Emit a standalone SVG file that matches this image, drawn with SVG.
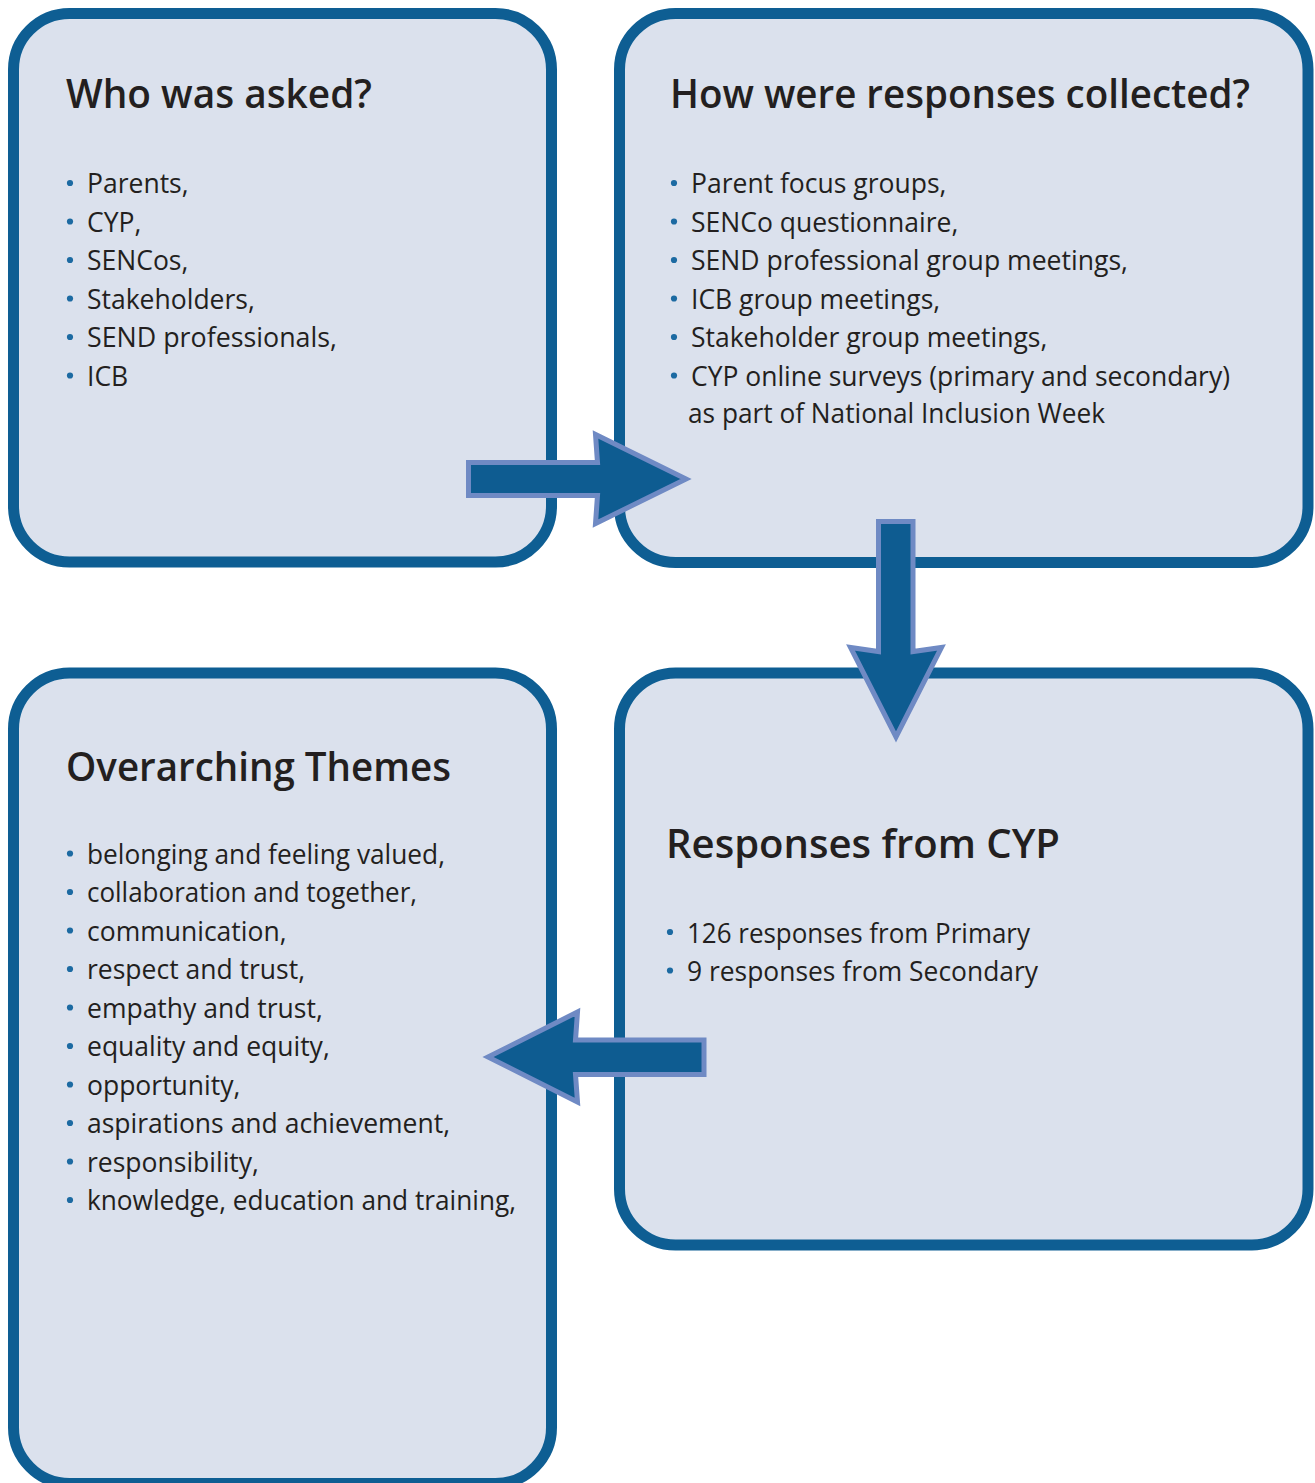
<svg xmlns="http://www.w3.org/2000/svg" width="1315" height="1483" viewBox="0 0 1315 1483">
<style>
.box{fill:#dbe1ed;stroke:#0e5e93;stroke-width:11}
.arrow{fill:#0e5c91;stroke:#6f8ac4;stroke-width:5;stroke-linejoin:miter}
.h{font-family:"Open Sans","Liberation Sans",sans-serif;font-weight:600;font-size:39px;fill:#231f20}
.t{font-family:"Open Sans","Liberation Sans",sans-serif;font-weight:400;font-size:26.5px;fill:#231f20}
.dot{fill:#1c6aa2}
</style>
<rect width="1315" height="1483" fill="#ffffff"/>
<g id="node-who">
<rect class="box" x="13.5" y="13.5" width="538" height="548.5" rx="56" ry="56"/>
<text class="h" x="66" y="108" textLength="306" lengthAdjust="spacingAndGlyphs">Who was asked?</text>
<circle class="dot" cx="70" cy="183" r="3.1"/><text class="t" x="87" y="193">Parents,</text>
<circle class="dot" cx="70" cy="221.5" r="3.1"/><text class="t" x="87" y="231.5">CYP,</text>
<circle class="dot" cx="70" cy="260" r="3.1"/><text class="t" x="87" y="270">SENCos,</text>
<circle class="dot" cx="70" cy="298.5" r="3.1"/><text class="t" x="87" y="308.5">Stakeholders,</text>
<circle class="dot" cx="70" cy="337" r="3.1"/><text class="t" x="87" y="347" textLength="250" lengthAdjust="spacingAndGlyphs">SEND professionals,</text>
<circle class="dot" cx="70" cy="375.5" r="3.1"/><text class="t" x="87" y="385.5">ICB</text>
</g>
<g id="node-how">
<rect class="box" x="619.5" y="13.5" width="688.5" height="549" rx="56" ry="56"/>
<text class="h" x="670" y="108" textLength="580" lengthAdjust="spacingAndGlyphs">How were responses collected?</text>
<circle class="dot" cx="674" cy="183" r="3.1"/><text class="t" x="691" y="193">Parent focus groups,</text>
<circle class="dot" cx="674" cy="221.5" r="3.1"/><text class="t" x="691" y="231.5">SENCo questionnaire,</text>
<circle class="dot" cx="674" cy="260" r="3.1"/><text class="t" x="691" y="270" textLength="437" lengthAdjust="spacingAndGlyphs">SEND professional group meetings,</text>
<circle class="dot" cx="674" cy="298.5" r="3.1"/><text class="t" x="691" y="308.5">ICB group meetings,</text>
<circle class="dot" cx="674" cy="337" r="3.1"/><text class="t" x="691" y="347">Stakeholder group meetings,</text>
<circle class="dot" cx="674" cy="375.5" r="3.1"/><text class="t" x="691" y="385.5" textLength="539" lengthAdjust="spacingAndGlyphs">CYP online surveys (primary and secondary)</text>
<text class="t" x="688" y="423" textLength="417" lengthAdjust="spacingAndGlyphs">as part of National Inclusion Week</text>
</g>
<g id="node-themes">
<rect class="box" x="13.5" y="673" width="538" height="810.5" rx="56" ry="56"/>
<text class="h" x="66" y="781" textLength="385" lengthAdjust="spacingAndGlyphs">Overarching Themes</text>
<circle class="dot" cx="70" cy="853.5" r="3.1"/><text class="t" x="87" y="863.5" textLength="358" lengthAdjust="spacingAndGlyphs">belonging and feeling valued,</text>
<circle class="dot" cx="70" cy="892" r="3.1"/><text class="t" x="87" y="902" textLength="330" lengthAdjust="spacingAndGlyphs">collaboration and together,</text>
<circle class="dot" cx="70" cy="930.5" r="3.1"/><text class="t" x="87" y="940.5">communication,</text>
<circle class="dot" cx="70" cy="969" r="3.1"/><text class="t" x="87" y="979">respect and trust,</text>
<circle class="dot" cx="70" cy="1007.5" r="3.1"/><text class="t" x="87" y="1017.5">empathy and trust,</text>
<circle class="dot" cx="70" cy="1046" r="3.1"/><text class="t" x="87" y="1056">equality and equity,</text>
<circle class="dot" cx="70" cy="1084.5" r="3.1"/><text class="t" x="87" y="1094.5">opportunity,</text>
<circle class="dot" cx="70" cy="1123" r="3.1"/><text class="t" x="87" y="1133" textLength="363" lengthAdjust="spacingAndGlyphs">aspirations and achievement,</text>
<circle class="dot" cx="70" cy="1161.5" r="3.1"/><text class="t" x="87" y="1171.5">responsibility,</text>
<circle class="dot" cx="70" cy="1200" r="3.1"/><text class="t" x="87" y="1210" textLength="429" lengthAdjust="spacingAndGlyphs">knowledge, education and training,</text>
</g>
<g id="node-cyp">
<rect class="box" x="619.5" y="673" width="688.5" height="572" rx="56" ry="56"/>
<text class="h" x="666" y="858" textLength="394" lengthAdjust="spacingAndGlyphs">Responses from CYP</text>
<circle class="dot" cx="670" cy="932" r="3.1"/><text class="t" x="687" y="942.5" textLength="343" lengthAdjust="spacingAndGlyphs">126 responses from Primary</text>
<circle class="dot" cx="670" cy="970.5" r="3.1"/><text class="t" x="687" y="981" textLength="351" lengthAdjust="spacingAndGlyphs">9 responses from Secondary</text>
</g>
<g id="connectors">
<polygon class="arrow" points="468.5,462.5 597.5,462.5 595.5,434.5 686,479 595.5,523.5 597.5,495.5 468.5,495.5"/>
<polygon class="arrow" points="878.5,521.5 913,521.5 913,651.5 941.5,647.5 896,737 850.5,647.5 878.5,651.5"/>
<polygon class="arrow" points="704,1040 575.5,1040 577.5,1012 488,1057 577.5,1102 575.5,1074.5 704,1074.5"/>
</g>
</svg>
